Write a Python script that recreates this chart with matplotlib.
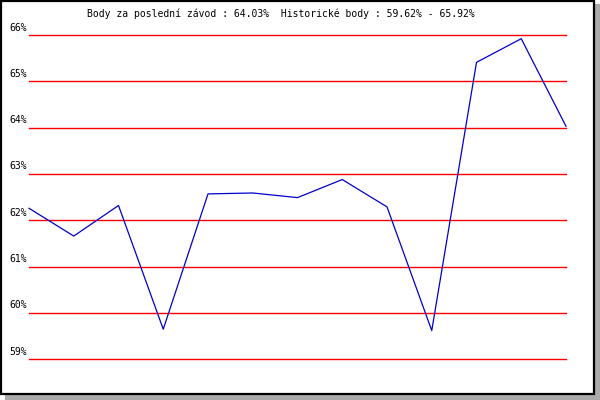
import matplotlib
matplotlib.use("Agg")
import matplotlib.pyplot as plt
from matplotlib.patches import Rectangle
from matplotlib.transforms import offset_copy

# data
race_index = list(range(13))
points = [62.26, 61.66, 62.32, 59.65, 62.57, 62.59, 62.49, 62.88, 62.29, 59.62, 65.41, 65.92, 64.03]
y_ticks = [59, 60, 61, 62, 63, 64, 65, 66]
y_labels = ["59%", "60%", "61%", "62%", "63%", "64%", "65%", "66%"]
title = "Body za poslední závod : 64.03%  Historické body : 59.62% - 65.92%"

W, H = 600, 400
fig = plt.figure(figsize=(6, 4), dpi=100)
fig.patch.set_facecolor("white")

# plot area in pixels
left, right, top, bottom = 29, 566, 35, 359.3
ax = fig.add_axes([left / W, 1 - bottom / H, (right - left) / W, (bottom - top) / H])
ax.set_xlim(0, 12)
ax.set_ylim(59, 66)
ax.axis("off")

# grid lines
for t in y_ticks:
    ax.axhline(t, color="#ff0000", lw=1.0, clip_on=False)

# tick labels, a bit above each line on the left
lab_tr = offset_copy(ax.get_yaxis_transform(), fig=fig, x=-2.5, y=2.5, units="dots")
for t, lab in zip(y_ticks, y_labels):
    ax.text(0, t, lab, transform=lab_tr, ha="right", va="bottom",
            family="DejaVu Sans Mono", fontsize=7, color="black")

ax.plot(race_index, points, color="#0000cc", lw=0.9, clip_on=False)

fig.text(0.4675, 1 - 14 / H, title, ha="center", va="center",
         family="DejaVu Sans Mono", fontsize=7, color="black")

# frame with shadow
fig.patches.append(Rectangle((595.3 / W, 0), 4.7 / W, 1 - 4 / H, transform=fig.transFigure,
                             facecolor="#aaaaaa", edgecolor="none"))
fig.patches.append(Rectangle((5 / W, 0), 1 - 5 / W, 4.7 / H, transform=fig.transFigure,
                             facecolor="#aaaaaa", edgecolor="none"))
fig.patches.append(Rectangle((1 / W, 5.7 / H), 593.3 / W, 393 / H, transform=fig.transFigure,
                             facecolor="none", edgecolor="black", lw=1.6))

fig.savefig("out.png", dpi=100)
